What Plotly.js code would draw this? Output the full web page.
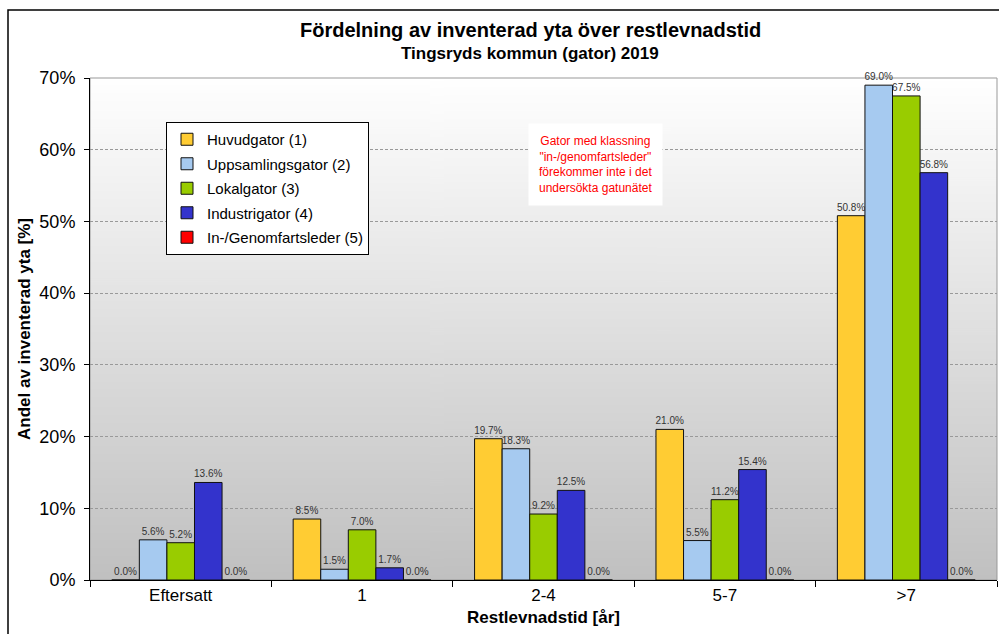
<!DOCTYPE html>
<html>
<head>
<meta charset="utf-8">
<script src="https://cdn.plot.ly/plotly-3.0.1.min.js"></script>
<style>html,body{margin:0;padding:0;background:#fff;}#chart{width:999px;height:634px;}</style>
</head>
<body>
<div id="chart"></div>
<script>
const categories = ["Eftersatt", "1", "2-4", "5-7", ">7"];
const seriesNames = ["Huvudgator (1)", "Uppsamlingsgator (2)", "Lokalgator (3)", "Industrigator (4)", "In-/Genomfartsleder (5)"];
const huvudgator = [0.0, 8.5, 19.7, 21.0, 50.8];
const uppsamlingsgator = [5.6, 1.5, 18.3, 5.5, 69.0];
const lokalgator = [5.2, 7.0, 9.2, 11.2, 67.5];
const industrigator = [13.6, 1.7, 12.5, 15.4, 56.8];
const genomfartsleder = [0.0, 0.0, 0.0, 0.0, 0.0];
const yTicks = [0, 10, 20, 30, 40, 50, 60, 70];
const colors = ["#FFCC33", "#A6CAF0", "#99CC00", "#3333CC", "#FF0000"];

const seriesValues = [huvudgator, uppsamlingsgator, lokalgator, industrigator, genomfartsleder];

// gradient background image
const cv = document.createElement('canvas');
cv.width = 4; cv.height = 512;
const ctx = cv.getContext('2d');
const g = ctx.createLinearGradient(0, 0, 0, 512);
g.addColorStop(0, '#ffffff');
g.addColorStop(1, '#c0c0c0');
ctx.fillStyle = g;
ctx.fillRect(0, 0, 4, 512);
const bgURL = cv.toDataURL('image/png');

const traces = seriesValues.map((vals, i) => ({
  type: 'bar',
  name: seriesNames[i],
  x: categories,
  y: vals,
  legendgroup: 'g' + i,
  marker: {color: colors[i], line: {color: '#111', width: 1}},
  text: vals.map(v => v.toFixed(1) + '%'),
  textposition: 'outside',
  textfont: {family: 'Arial, Liberation Sans, sans-serif', size: 10, color: '#333'},
  cliponaxis: false,
  constraintext: 'none',
  hoverinfo: 'x+y+name'
}));

const W = 999, H = 634;
const L = 90, R = 2, T = 78, B = 54;
const pw = W - L - R, ph = H - T - B;
const px = (x) => (x - L) / pw;
const py = (y) => (H - B - y) / ph;

const layout = {
  width: W, height: H,
  margin: {l: L, r: R, t: T, b: B, pad: 0},
  paper_bgcolor: '#ffffff',
  plot_bgcolor: 'rgba(0,0,0,0)',
  font: {family: 'Arial, Liberation Sans, sans-serif', color: '#000'},
  barmode: 'group',
  bargap: 0.24,
  bargroupgap: 0,
  showlegend: true,
  legend: {
    x: px(166), y: py(122), xanchor: 'left', yanchor: 'top',
    bgcolor: '#ffffff', bordercolor: '#000', borderwidth: 1,
    font: {size: 15, family: 'Arial, Liberation Sans, sans-serif'},
    traceorder: 'grouped', tracegroupgap: 2,
    itemwidth: 30
  },
  xaxis: {
    type: 'category',
    tickson: 'boundaries',
    ticks: 'outside', ticklen: 6, tickcolor: '#000',
    showline: true, linecolor: '#000', linewidth: 1,
    tickfont: {size: 17},
    title: {text: '<b>Restlevnadstid [år]</b>', font: {size: 17}, standoff: 6},
    showgrid: false
  },
  yaxis: {
    range: [0, 70],
    tickvals: yTicks,
    ticktext: yTicks.map(v => v + '%'),
    ticks: 'outside', ticklen: 5, tickcolor: '#000',
    showline: true, linecolor: '#000', linewidth: 1,
    tickfont: {size: 18},
    ticklabelstandoff: 5,
    showgrid: true, gridcolor: '#999', griddash: '3px,2px', gridwidth: 1,
    zeroline: false,
    title: {text: '<b>Andel av inventerad yta [%]</b>', font: {size: 17}, standoff: 4}
  },
  images: [{
    source: bgURL, xref: 'paper', yref: 'paper',
    x: 0, y: 1, sizex: 1, sizey: 1, xanchor: 'left', yanchor: 'top',
    sizing: 'stretch', layer: 'below'
  }],
  shapes: [
    {type: 'rect', xref: 'paper', yref: 'paper', x0: 0, x1: 1, y0: 0, y1: 1,
     line: {color: '#999', width: 1}, layer: 'below'},
    {type: 'rect', xref: 'paper', yref: 'paper', x0: px(8), x1: px(1010), y0: py(10), y1: py(650),
     line: {color: '#000', width: 1.5}, layer: 'below'}
  ],
  annotations: [
    {text: '<b>Fördelning av inventerad yta över restlevnadstid</b>', xref: 'paper', yref: 'paper',
     x: px(530), y: py(30), xanchor: 'center', yanchor: 'middle', showarrow: false,
     font: {size: 20}},
    {text: '<b>Tingsryds kommun (gator) 2019</b>', xref: 'paper', yref: 'paper',
     x: px(530), y: py(53), xanchor: 'center', yanchor: 'middle', showarrow: false,
     font: {size: 17}},
    {text: 'Gator med klassning<br>"in-/genomfartsleder"<br>förekommer inte i det<br>undersökta gatunätet',
     xref: 'paper', yref: 'paper', x: px(595), y: py(165), xanchor: 'center', yanchor: 'middle',
     showarrow: false, align: 'center', bgcolor: '#ffffff', borderpad: 10,
     font: {size: 12, color: '#FF0000'}}
  ]
};

Plotly.newPlot('chart', traces, layout, {displayModeBar: false, staticPlot: true});
</script>
</body>
</html>
